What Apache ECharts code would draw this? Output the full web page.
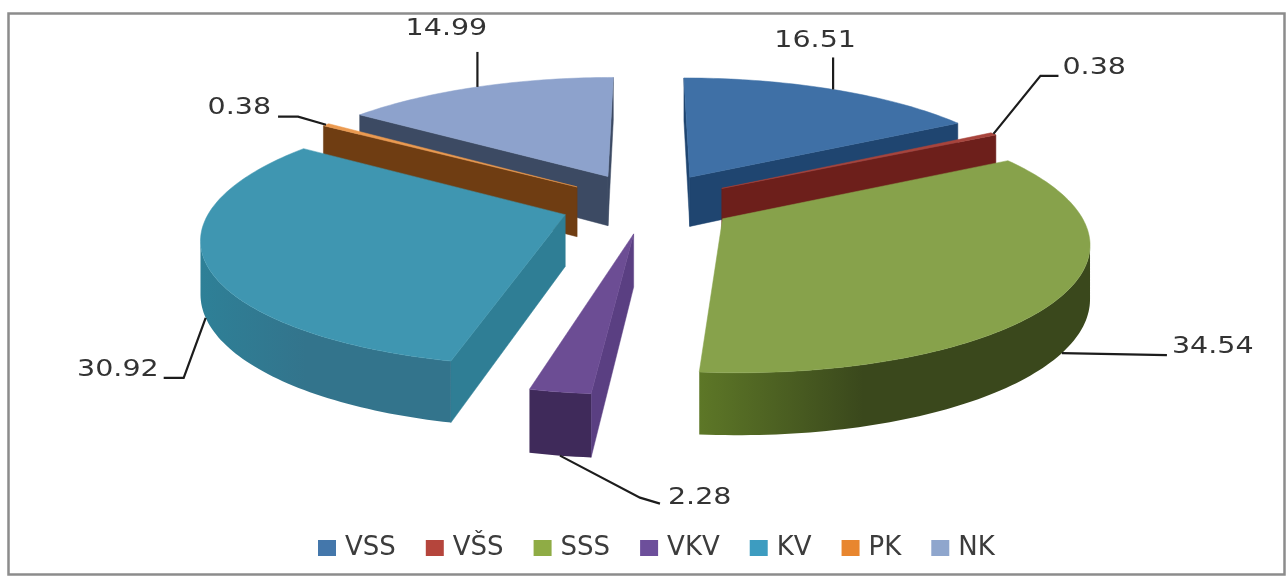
<!DOCTYPE html>
<html>
<head>
<meta charset="utf-8">
<style>html,body{margin:0;padding:0;background:#fff}#c{width:1288px;height:578px}</style>
<script src="https://cdn.jsdelivr.net/npm/echarts@6/dist/echarts.min.js"></script>
</head>
<body>
<div id="c"></div>
<script>
const categories = ['VSS', 'VŠS', 'SSS', 'VKV', 'KV', 'PK', 'NK'];
const shares = [16.51, 0.38, 34.54, 2.28, 30.92, 0.38, 14.99];
const legendColors = ['#4477ab', '#b5453c', '#8fac45', '#6d4f9b', '#3d9cc0', '#e8862f', '#8fa6cd'];
const topColors = ['#3f70a6', '#a8443c', '#87a24b', '#6c4d94', '#3f96b1', '#eb9a50', '#8da2cc'];
const sideColors = ['#1f4570', '#6d1f1b', '#5b7326', '#5a3f82', '#2f7e95', '#6f3d12', '#3c4a63'];
const wallStops = [
  ['#1f4570', '#1f4570'], ['#6d1f1b', '#6d1f1b'], ['#5d7727', '#3a481c'],
  ['#3f2a5a', '#3f2a5a'], ['#2e8097', '#33748c'], ['#6f3d12', '#6f3d12'], ['#3c4a63', '#3c4a63']
];

// projection of the exploded disc
const G = { cx: 644, cy: 201, rx: 352, ry: 123, p: 0.16, explode: 0.26, h: 51 };
// small per-slice screen shift on top of the projection
const shift = [[2, 3], [0, 3], [0, 0], [5, 0], [8, 2], [6, 4], [4, 3]];
// leader offsets from the anchor on the slice edge, and label placement relative to last point
const leaders = [
  { pts: [[0, -32]], lab: [-18, -16], align: 'center' },
  { pts: [[47, -58], [65, -58]], lab: [4, -8], align: 'left' },
  { pts: [[105, 2]], lab: [5, -8], align: 'left' },
  { pts: [[80, 42], [100, 48]], lab: [8, -6], align: 'left' },
  { pts: [[-22, 60], [-42, 60]], lab: [-5, -8], align: 'right' },
  { pts: [[-28, -8], [-48, -8]], lab: [-7, -9], align: 'right' },
  { pts: [[0, -35]], lab: [-31, -23], align: 'center' }
];
const total = shares.reduce((a, b) => a + b, 0);
const starts = [];
shares.reduce((acc, v, i) => { starts[i] = acc; return acc + v; }, 0);
const rad = v => v / total * Math.PI * 2;

function makeSlice(i) {
  const a0 = rad(starts[i]), a1 = rad(starts[i] + shares[i]), m = (a0 + a1) / 2;
  const ox = G.explode * Math.sin(m), oy = -G.explode * Math.cos(m);
  const at = (t, r) => [ox + r * Math.sin(t), oy - r * Math.cos(t)];
  const n = Math.max(2, Math.ceil((a1 - a0) / 0.02));
  const arc = [];
  for (let k = 0; k <= n; k++) arc.push(at(a0 + (a1 - a0) * k / n, 1));
  return { a0, a1, m, apex: [ox, oy], arc, at };
}
function depthOf(i) { return makeSlice(i).apex[1]; }
const order = categories.map((_, i) => i).sort((a, b) => depthOf(a) - depthOf(b));

function renderSlice(i) {
  const project = (X, Y, drop) => {
    const w = 1 - G.p * Y;
    return [G.cx + shift[i][0] + G.rx * X / w, G.cy + shift[i][1] + G.ry * Y / w + (drop ? G.h / w : 0)];
  };
  const s = makeSlice(i);
  const z = 10 + order.indexOf(i) * 10;
  const kids = [];
  const wall = (A, B, fill, zz) => {
    const pts = [project(A[0], A[1]), project(B[0], B[1]), project(B[0], B[1], true), project(A[0], A[1], true)];
    kids.push({ type: 'polygon', shape: { points: pts }, style: { fill, stroke: fill, lineWidth: 0.5 }, z2: zz });
  };
  const scr = p => project(p[0], p[1]);
  if (scr(s.arc[0])[0] < scr(s.apex)[0]) wall(s.apex, s.arc[0], sideColors[i], z);
  if (scr(s.apex)[0] < scr(s.arc[s.arc.length - 1])[0]) wall(s.arc[s.arc.length - 1], s.apex, sideColors[i], z);
  // outer curved wall: only the stretch that faces the viewer
  const vis = [];
  for (let k = 0; k < s.arc.length; k++) {
    const here = scr(s.arc[k])[0];
    const next = k + 1 < s.arc.length ? scr(s.arc[k + 1])[0] : here;
    const prev = k > 0 ? scr(s.arc[k - 1])[0] : here;
    if (next < here || prev > here) vis.push(s.arc[k]);
  }
  if (vis.length > 1) {
    const up = vis.map(p => project(p[0], p[1]));
    const down = vis.map(p => project(p[0], p[1], true)).reverse();
    const pts = up.concat(down);
    const xs = pts.map(p => p[0]);
    const fill = {
      type: 'linear', x: Math.min(...xs), y: 0, x2: Math.max(...xs), y2: 0, global: true,
      colorStops: [{ offset: 0, color: wallStops[i][0] }, { offset: 0.42, color: wallStops[i][1] }, { offset: 1, color: wallStops[i][1] }]
    };
    kids.push({ type: 'polygon', shape: { points: pts }, style: { fill, stroke: null }, z2: z + 1 });
  }
  const face = [scr(s.apex)].concat(s.arc.map(scr));
  kids.push({ type: 'polygon', shape: { points: face }, style: { fill: topColors[i], stroke: topColors[i], lineWidth: 0.5 }, z2: z + 2 });

  // leader line and value label
  const mid = s.at(s.m, 1);
  const front = Math.cos(s.m) < 0;
  const anchor = project(mid[0], mid[1], front);
  const L = leaders[i];
  const line = [anchor].concat(L.pts.map(d => [anchor[0] + d[0], anchor[1] + d[1]]));
  const last = line[line.length - 1];
  kids.push({ type: 'polyline', shape: { points: line }, style: { fill: null, stroke: '#1c1c1c', lineWidth: 2.2 }, z2: 200 });
  kids.push({
    type: 'text', x: last[0] + L.lab[0], y: last[1] + L.lab[1], scaleX: 1.24,
    style: {
      text: String(shares[i]), font: '23px "DejaVu Sans"', fill: '#333333',
      textAlign: L.align, textVerticalAlign: 'middle'
    },
    z2: 201
  });
  return { type: 'group', children: kids };
}

const chart = echarts.init(document.getElementById('c'), null, { renderer: 'canvas' });
chart.setOption({
  animation: false,
  backgroundColor: '#ffffff',
  graphic: [{
    type: 'rect', left: 6, top: 11, shape: { width: 1276, height: 561 },
    style: { fill: 'none', stroke: '#8c8c8c', lineWidth: 2.5 }, silent: true
  }],
  legend: {
    left: 313, top: 530, itemWidth: 18, itemHeight: 16, itemGap: 30,
    icon: 'rect',
    textStyle: { fontFamily: 'DejaVu Sans', fontSize: 26, color: '#3c3c3c', padding: [0, 0, 0, 4] },
    data: categories
  },
  series: categories.map((name, i) => ({
    type: 'custom', name, coordinateSystem: 'none',
    itemStyle: { color: legendColors[i] },
    data: [shares[i]],
    renderItem: () => renderSlice(i)
  }))
});
</script>
</body>
</html>
